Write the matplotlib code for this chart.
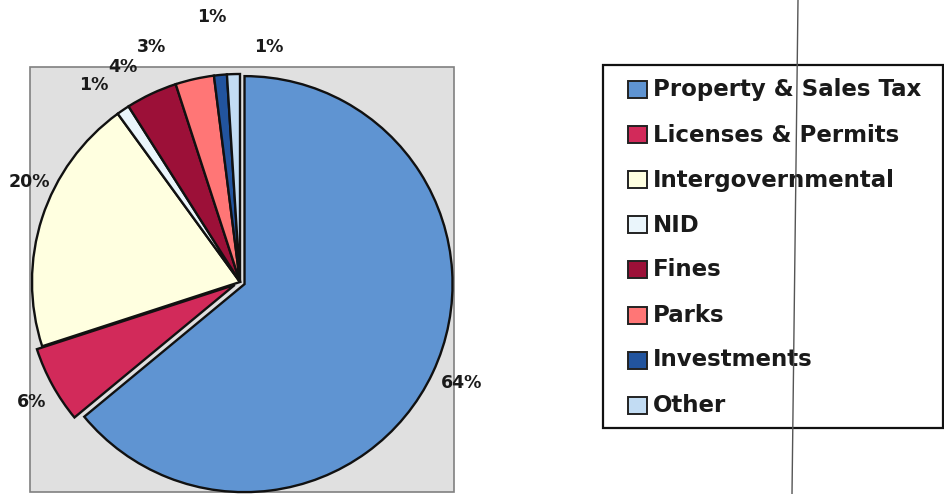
import numpy as np
import matplotlib
matplotlib.use("Agg")
import matplotlib.pyplot as plt
from matplotlib.patches import Rectangle

categories = ["Property & Sales Tax", "Licenses & Permits", "Intergovernmental", "NID",
              "Fines", "Parks", "Investments", "Other"]
values = [64, 6, 20, 1, 4, 3, 1, 1]
pct_labels = [f"{v}%" for v in values]

colors = ["#5f94d2", "#d22a5a", "#ffffe0", "#eaf5fb", "#9c1038", "#ff7676", "#22549e", "#c2dcf3"]
# explode offsets (in pixels, since the axes use pixel units)
explode = [5, 6, 0, 0, 0, 0, 0, 0]
# label placement (radius factor, angular shift in degrees)
lab_r = [1.17, 1.155, 1.12, 1.18, 1.18, 1.21, 1.28, 1.14]
lab_da = [0.7, 1.2, -7.5, 2.3, 3.4, 8.1, 0.6, -8.8]

W, H = 944, 494
fig = plt.figure(figsize=(W / 100, H / 100), dpi=100)
ax = fig.add_axes([0, 0, 1, 1])

cx, cy, R = 240, 212, 208

ax.add_patch(Rectangle((30, 2), 424, 425, facecolor="#e0e0e0", edgecolor="#808080",
                       linewidth=1.2, zorder=0))

wedges, _ = ax.pie(values, startangle=90, counterclock=False, colors=colors, explode=explode,
                   radius=R, center=(cx, cy),
                   wedgeprops=dict(edgecolor="#111111", linewidth=1.7))
for w in wedges:
    w.set_zorder(2)

for w, lab, rf, da in zip(wedges, pct_labels, lab_r, lab_da):
    mid = np.deg2rad((w.theta1 + w.theta2) / 2 + da)
    ax.text(cx + R * rf * np.cos(mid), cy + R * rf * np.sin(mid), lab,
            ha="center", va="center", fontsize=12.5, fontweight="bold",
            color="#1a1a1a", family="DejaVu Sans", zorder=5)

# legend
ax.add_patch(Rectangle((603, 66), 340, 363, facecolor="white", edgecolor="#111111",
                       linewidth=1.6, zorder=3))
for i, (cat, col) in enumerate(zip(categories, colors)):
    yc = H - (90 + 45 * i)
    ax.add_patch(Rectangle((628, yc - 8.5), 19, 17, facecolor=col, edgecolor="#222222",
                           linewidth=1.4, zorder=4))
    ax.text(653, yc, cat, ha="left", va="center", fontsize=16.5, fontweight="bold",
            color="#1a1a1a", family="DejaVu Sans", zorder=5)

# scan artifact line through legend
ax.plot([798, 792], [H, 0], color="#555555", linewidth=1.0, zorder=6)

ax.set_xlim(0, W)
ax.set_ylim(0, H)
ax.set_aspect("equal")
ax.axis("off")

fig.savefig("out.png", dpi=100)
